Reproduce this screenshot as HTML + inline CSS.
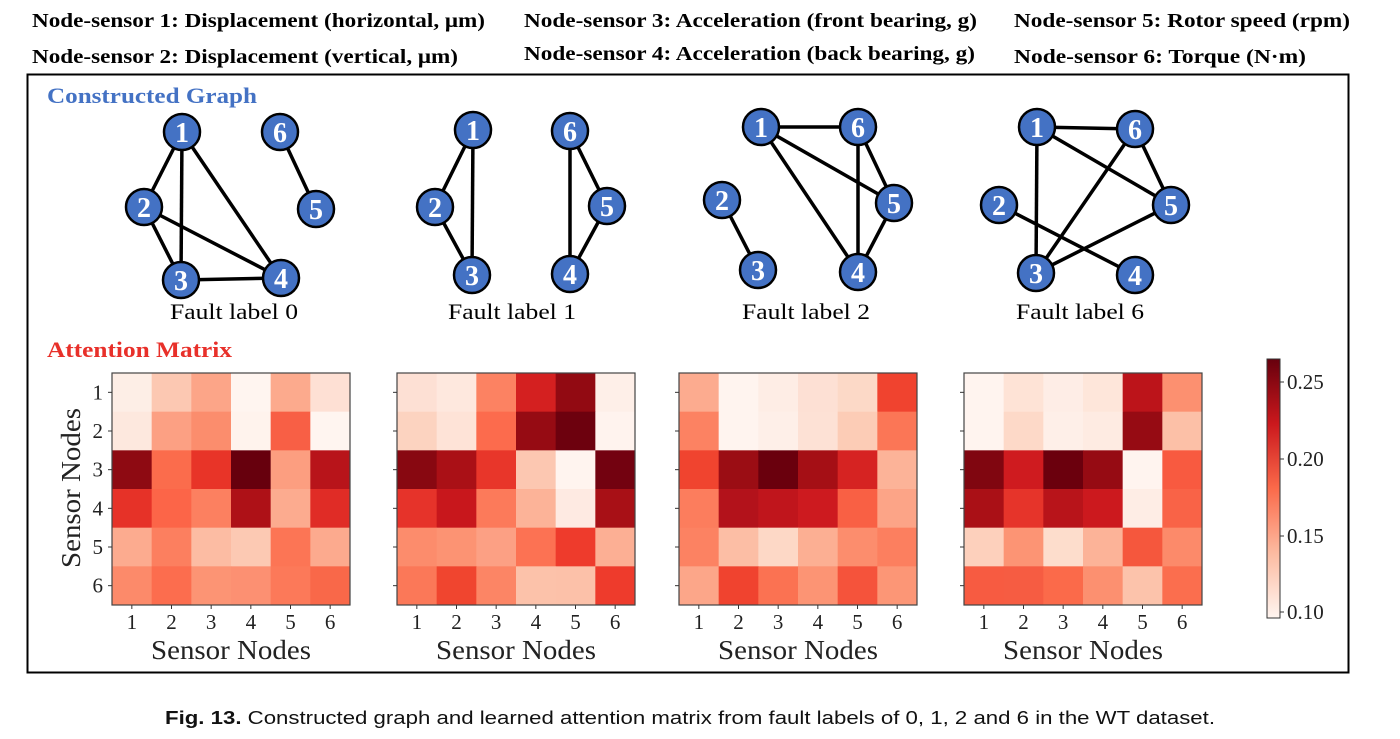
<!DOCTYPE html>
<html><head><meta charset="utf-8"><style>
body{margin:0;background:#fff;width:1400px;height:739px;overflow:hidden}
svg{display:block}
</style></head><body>
<svg id="s" width="1400" height="739" xmlns="http://www.w3.org/2000/svg" font-family="Liberation Serif, serif">
<defs><linearGradient id="cb" x1="0" y1="1" x2="0" y2="0">
<stop offset="0" stop-color="#fff5f0"/><stop offset="0.25" stop-color="#fcbba1"/><stop offset="0.5" stop-color="#fb6a4a"/><stop offset="0.75" stop-color="#cb181d"/><stop offset="1" stop-color="#67000d"/></linearGradient></defs>
<g font-weight="bold" font-size="20" fill="#000" lengthAdjust="spacingAndGlyphs">
<text x="32" y="27" textLength="453" lengthAdjust="spacingAndGlyphs">Node-sensor 1: Displacement (horizontal, μm)</text>
<text x="32" y="63" textLength="426" lengthAdjust="spacingAndGlyphs">Node-sensor 2: Displacement (vertical, μm)</text>
<text x="524" y="27" textLength="453" lengthAdjust="spacingAndGlyphs">Node-sensor 3: Acceleration (front bearing, g)</text>
<text x="524" y="60" textLength="451" lengthAdjust="spacingAndGlyphs">Node-sensor 4: Acceleration (back bearing, g)</text>
<text x="1014" y="27" textLength="336" lengthAdjust="spacingAndGlyphs">Node-sensor 5: Rotor speed (rpm)</text>
<text x="1014" y="63" textLength="292" lengthAdjust="spacingAndGlyphs">Node-sensor 6: Torque (N·m)</text>
</g>
<rect x="27.5" y="74.5" width="1321" height="598" fill="none" stroke="#000" stroke-width="2"/>
<text x="47" y="103" font-size="22" font-weight="bold" fill="#4472c4" textLength="210" lengthAdjust="spacingAndGlyphs">Constructed Graph</text>
<text x="47" y="357" font-size="22" font-weight="bold" fill="#e8302a" textLength="185" lengthAdjust="spacingAndGlyphs">Attention Matrix</text>
<g id="graphs"></g>
<g id="heat"></g>
<rect x="1267" y="359" width="13" height="259" fill="url(#cb)" stroke="#333" stroke-width="1"/>
<g font-size="21" fill="#222">
<line x1="1280" y1="382" x2="1284" y2="382" stroke="#333"/><text x="1287" y="389">0.25</text>
<line x1="1280" y1="459" x2="1284" y2="459" stroke="#333"/><text x="1287" y="466">0.20</text>
<line x1="1280" y1="536" x2="1284" y2="536" stroke="#333"/><text x="1287" y="543">0.15</text>
<line x1="1280" y1="612" x2="1284" y2="612" stroke="#333"/><text x="1287" y="619">0.10</text>
</g>
<text x="80" y="488" font-size="27" fill="#222" text-anchor="middle" transform="rotate(-90 80 488)" textLength="160" lengthAdjust="spacingAndGlyphs">Sensor Nodes</text>
<text x="165" y="724" font-family="Liberation Sans, sans-serif" font-size="18" fill="#111" textLength="1050" lengthAdjust="spacingAndGlyphs"><tspan font-weight="bold">Fig. 13.</tspan> Constructed graph and learned attention matrix from fault labels of 0, 1, 2 and 6 in the WT dataset.</text>
</svg>
<script>
var NS="http://www.w3.org/2000/svg";
function el(p,t,a,txt){var e=document.createElementNS(NS,t);for(var k in a)e.setAttribute(k,a[k]);if(txt!=null)e.textContent=txt;p.appendChild(e);return e;}
var G=document.getElementById('graphs');
var graphs=[
 {n:{1:[182,132],6:[280,132],2:[144,207],5:[316,209],3:[181,280],4:[281,278]},e:[[1,2],[1,3],[1,4],[2,3],[2,4],[3,4],[6,5]],lab:"Fault label 0",lx:234},
 {n:{1:[473,130],6:[570,131],2:[435,207],5:[607,206],3:[472,275],4:[570,274]},e:[[1,2],[1,3],[2,3],[6,4],[6,5],[5,4]],lab:"Fault label 1",lx:512},
 {n:{1:[761,127],6:[858,127],2:[722,200],5:[894,203],3:[758,270],4:[858,272]},e:[[1,6],[1,5],[1,4],[6,4],[6,5],[5,4],[2,3]],lab:"Fault label 2",lx:806},
 {n:{1:[1037,127],6:[1135,129],2:[999,205],5:[1171,205],3:[1036,273],4:[1135,275]},e:[[1,6],[1,3],[1,5],[6,5],[6,3],[5,3],[2,4]],lab:"Fault label 6",lx:1080}
];
graphs.forEach(function(g){
 g.e.forEach(function(p){var a=g.n[p[0]],b=g.n[p[1]];el(G,'line',{x1:a[0],y1:a[1],x2:b[0],y2:b[1],stroke:'#000','stroke-width':3.5});});
 for(var k in g.n){var c=g.n[k];el(G,'circle',{cx:c[0],cy:c[1],r:18,fill:'#4472c4',stroke:'#000','stroke-width':2.5});
  el(G,'text',{x:c[0],y:c[1]+10,'text-anchor':'middle','font-size':28,'font-weight':'bold',fill:'#fff'},k);}
 el(G,'text',{x:g.lx,y:319,'text-anchor':'middle','font-size':22,fill:'#000',textLength:128,lengthAdjust:'spacingAndGlyphs'},g.lab);
});
var H=document.getElementById('heat');
var X=[112,397,679,964],Y0=373,W=238,Hh=232;
var M=[
[["fdeee6","fcc8b2","fca588","fff5f0","fcaa8d","fee0d4"],["fde8de","fca083","fb8d6d","fff3ed","f85f45","fff5f0"],["8e0a12","fb6c4c","e83428","67000d","fc9e80","b8141a"],["e63228","fc6548","fc8060","ae1117","fcab8f","e02c26"],["fcab8f","fc7f5f","fcbca3","fcc9b3","fc7555","fcaa8e"],["fc8a6a","fc6d4e","fc9474","fc9072","fc7959","f96849"]],
[["fde0d4","fee8de","fc8262","d42020","920a12","feefe8"],["fcd3c0","fee3d7","fc6b4d","960b13","6d010e","fff3ee"],["880811","aa1016","e8362a","fcc7b1","fff4ef","730210"],["e6332a","c8171c","fc7a5a","fcb398","feeae2","a81016"],["fc8c6c","fc9373","fca084","fc7253","ee3b2c","fcaf94"],["fb7858","f0452f","fc8565","fcc2aa","fcc1a9","ee3b2c"]],
[["fcab8f","fff4ef","feede5","fde0d4","fcd9c7","f0432f"],["fc8262","fff4ef","feefe8","fde1d5","fcccb6","fb7656"],["f0442f","9b0d14","6a000d","a50f15","d62322","fcb398"],["fc7d5d","b3121b","c0151c","cd1a1f","f96044","fca487"],["fc8262","fcbea5","fdd8c6","fcaf93","fc8d6d","fc7f5f"],["fca689","f0432f","fb7252","fc9474","f5533b","fc9676"]],
[["fff4ef","fee3d6","feede6","fee6da","bc141a","fc9070"],["fff4ef","fdd9c8","feefe8","feebe2","960b13","fcc0a7"],["800610","cf1b1f","6b000d","960b13","fff4ef","f85a40"],["aa1016","e6342a","b8141a","cc191e","feede5","f96347"],["fdd0bc","fc9474","fdddcc","fcb398","f5573d","fc8a6a"],["f75b41","f65c42","fb6a4a","fc9070","fcc3ab","fb6e4e"]]];
var cw=W/6,ch=Hh/6;
for(var h=0;h<4;h++){
 var x0=X[h];
 for(var r=0;r<6;r++)for(var c=0;c<6;c++)
  el(H,'rect',{x:x0+c*cw,y:Y0+r*ch,width:cw+0.5,height:ch+0.5,fill:'#'+M[h][r][c]});
 el(H,'rect',{x:x0,y:Y0,width:W,height:Hh,fill:'none',stroke:'#444','stroke-width':1.2});
 for(var i=0;i<6;i++){
  var tx=x0+(i+0.5)*cw, ty=Y0+(i+0.5)*ch;
  el(H,'line',{x1:tx,y1:Y0+Hh,x2:tx,y2:Y0+Hh+4,stroke:'#333'});
  el(H,'line',{x1:x0,y1:ty,x2:x0-4,y2:ty,stroke:'#333'});
  el(H,'text',{x:tx,y:Y0+Hh+24,'text-anchor':'middle','font-size':21,fill:'#222'},i+1);
  if(h==0) el(H,'text',{x:x0-9,y:ty+7,'text-anchor':'end','font-size':21,fill:'#222'},i+1);
 }
 el(H,'text',{x:x0+W/2,y:659,'text-anchor':'middle','font-size':27,fill:'#222',textLength:160,lengthAdjust:'spacingAndGlyphs'},'Sensor Nodes');
}
</script>
</body></html>
